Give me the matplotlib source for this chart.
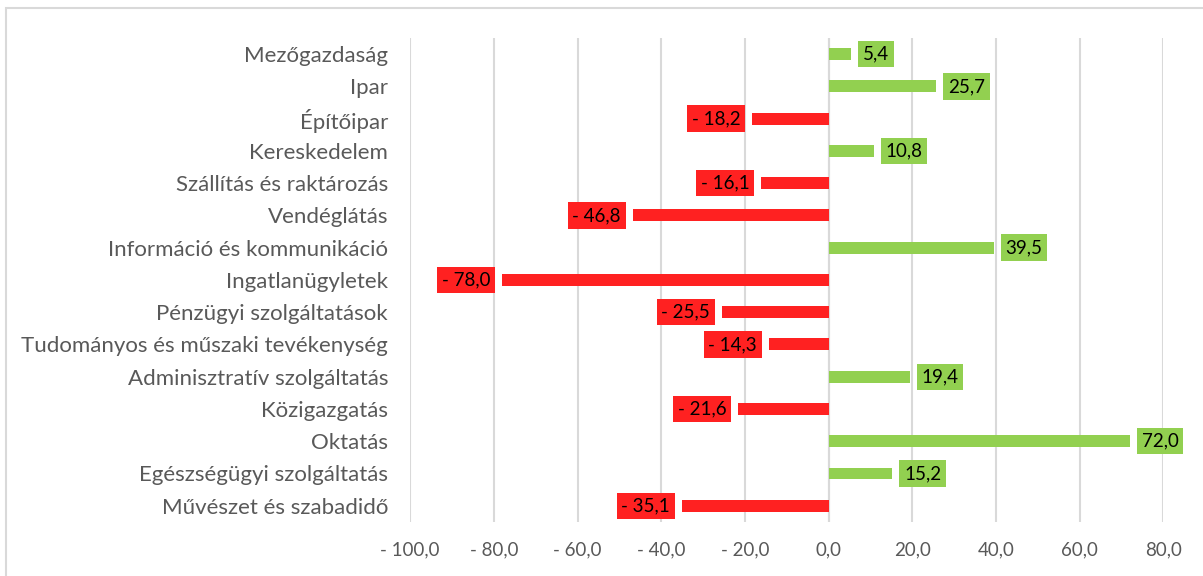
import matplotlib.pyplot as plt
from matplotlib.patches import Rectangle

plt.rcParams['font.family'] = ['Lato', 'DejaVu Sans']

categories = ['Mezőgazdaság', 'Ipar', 'Építőipar', 'Kereskedelem',
              'Szállítás és raktározás', 'Vendéglátás',
              'Információ és kommunikáció', 'Ingatlanügyletek',
              'Pénzügyi szolgáltatások',
              'Tudományos és műszaki tevékenység',
              'Adminisztratív szolgáltatás', 'Közigazgatás', 'Oktatás',
              'Egészségügyi szolgáltatás', 'Művészet és szabadidő']
values = [5.4, 25.7, -18.2, 10.8, -16.1, -46.8, 39.5, -78.0, -25.5,
          -14.3, 19.4, -21.6, 72.0, 15.2, -35.1]
ticks = [-100, -80, -60, -40, -20, 0, 20, 40, 60, 80]

green = '#92D050'
red = '#FF2121'


def fmt(v):
    s = f'{abs(v):.1f}'.replace('.', ',')
    return '- ' + s if v < 0 else s


fig = plt.figure(figsize=(12.03, 5.76), dpi=100)
ax = fig.add_axes([0.341, 0.094, 0.626, 0.84])

y = list(range(len(categories)))
colors = [green if v >= 0 else red for v in values]
ax.barh(y, values, height=0.37, color=colors, zorder=3)

for yi, v in zip(y, values):
    c = green if v >= 0 else red
    ax.annotate(fmt(v), (v, yi), xytext=(8.5 if v >= 0 else -8.5, 0),
                textcoords='offset points', va='center',
                ha='left' if v >= 0 else 'right', fontsize=13.5,
                color='black', zorder=4,
                bbox=dict(boxstyle='square,pad=0.25', fc=c, ec='none'))

ax.set_xlim(-100, 80)
ax.set_ylim(len(categories) - 0.5, -0.5)
ax.set_yticks(y)
ax.set_yticklabels(categories, fontsize=16, color='#595959')
ax.set_xticks(ticks)
ax.set_xticklabels([fmt(t) for t in ticks], fontsize=13.5, color='#595959')
ax.tick_params(axis='y', length=0, pad=16)
ax.tick_params(axis='x', length=0, pad=14)
ax.grid(axis='x', color='#D9D9D9', linewidth=1.5, zorder=0)
ax.axvline(0, color='#D9D9D9', linewidth=1.5, zorder=1)
for sp in ax.spines.values():
    sp.set_visible(False)

fig.patches.append(Rectangle((6 / 1203, -0.1), 1.2, 1 - 8 / 576 + 0.1,
                             transform=fig.transFigure, fill=False,
                             ec='#D9D9D9', lw=1.5))

fig.savefig('out.png', dpi=100)
